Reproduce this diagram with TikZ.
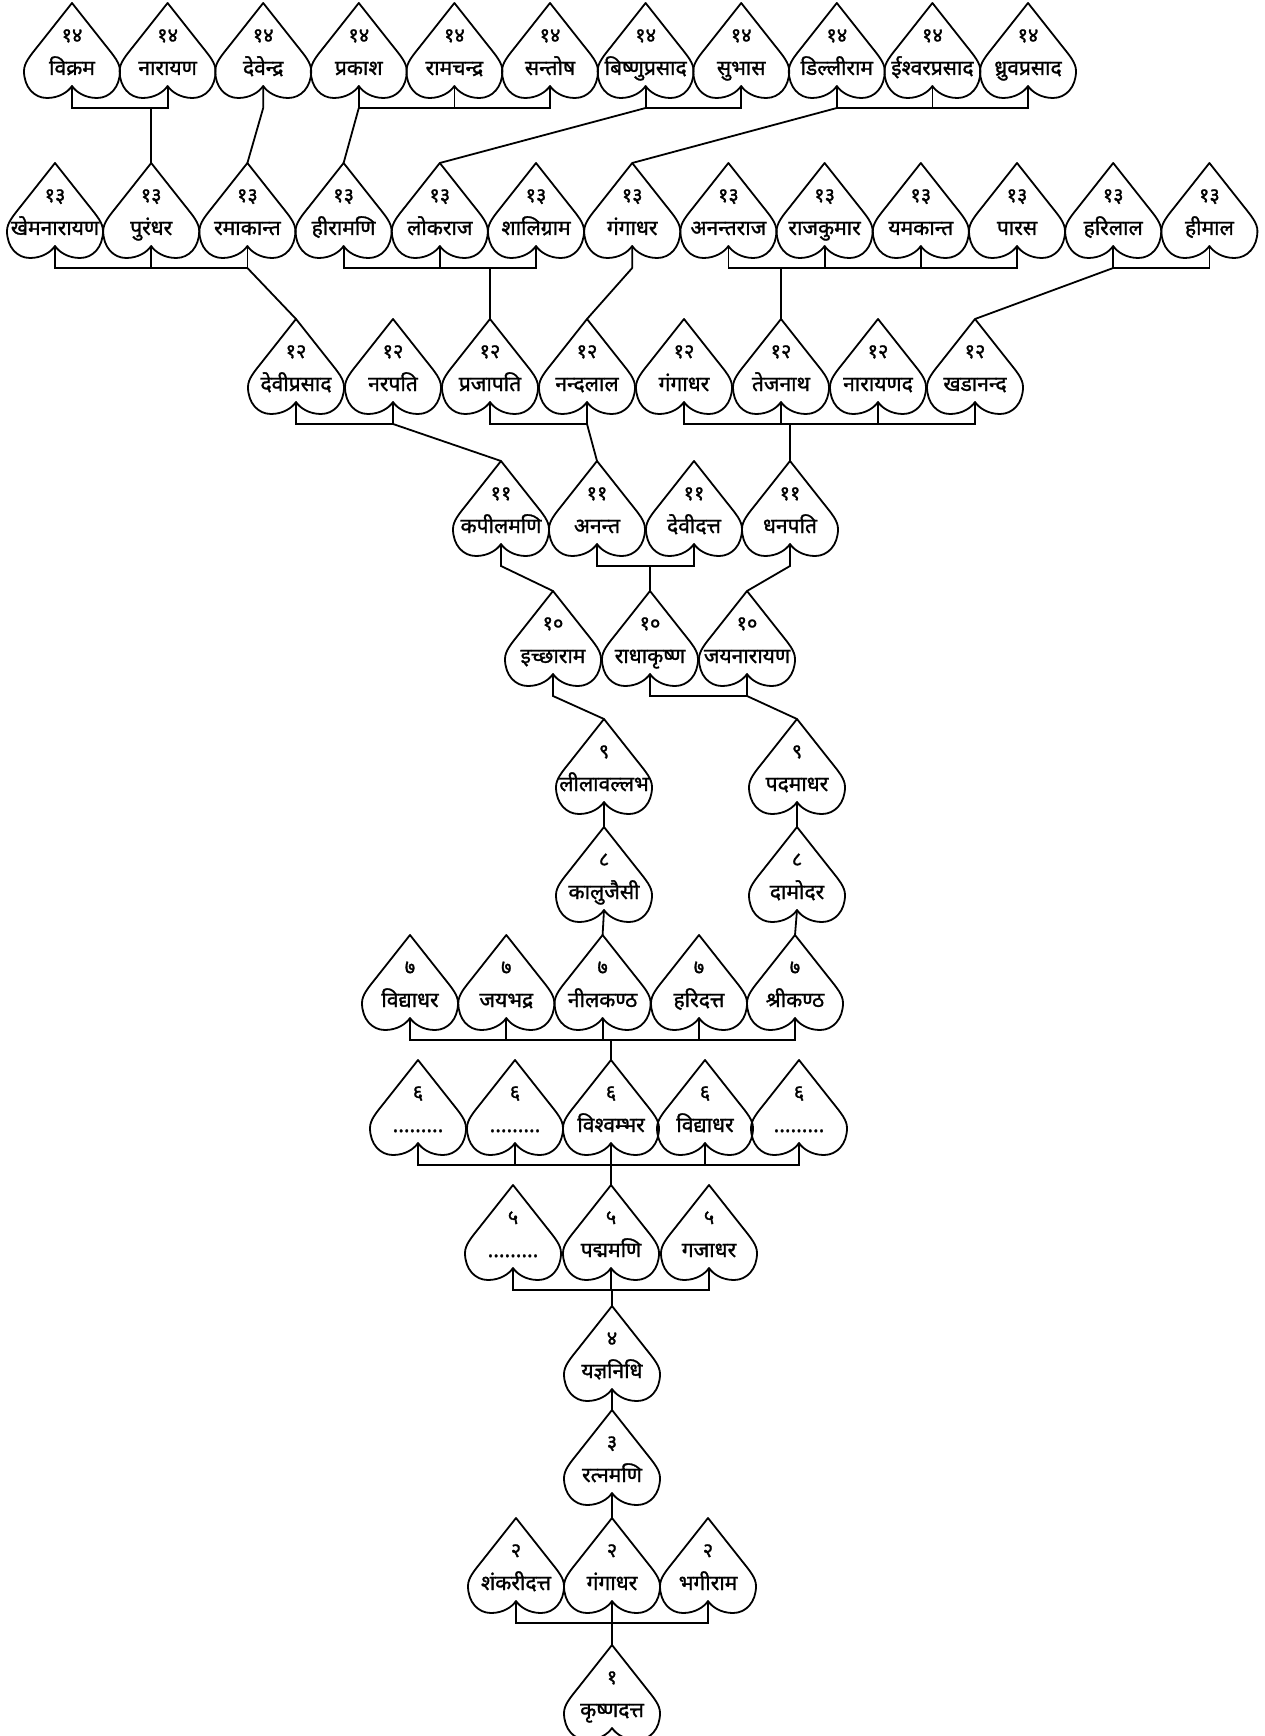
\documentclass[tikz,border=0pt]{standalone}
\usepackage{fontspec}
\newfontfamily\devfont[Script=Devanagari,FakeBold=1.3]{Noto Sans}
\newcommand\mkleaf[5]{%
  \coordinate (#1) at (#2,#3);
  \pic at (#1) {leafshape};
  \path (#1) ++(0,39) node[numtext] (#1-n) {#4};
  \path (#1) ++(0,72) node[nametext] (#1-t) {#5};
  \path (#1) ++(0,83) coordinate (#1-b);
  \path (#1) ++(0,105) coordinate (#1-s);
}
\begin{document}
\begin{tikzpicture}[x=1pt,y=-1pt,
  leafline/.style={line width=1.8pt, line join=round},
  conn/.style={line width=1.8pt},
  numtext/.style={font=\devfont\fontsize{20}{24}\selectfont, inner sep=0pt, anchor=base},
  nametext/.style={font=\devfont\fontsize{21}{25}\selectfont, inner sep=0pt, anchor=base},
  leafshape/.pic={\draw[leafline] (0,0) -- (34,43) .. controls (42,53) and (48,60) .. (48,68)
     .. controls (48,84) and (38,95) .. (25,95) .. controls (13,95) and (4,89) .. (0,83)
     .. controls (-4,89) and (-13,95) .. (-25,95) .. controls (-38,95) and (-48,84) .. (-48,68)
     .. controls (-48,60) and (-42,53) .. (-34,43) -- cycle;}
]
\useasboundingbox[fill=white] (0,0) rectangle (1265,1736);
% row 14
\mkleaf{a1}{72}{3}{१४}{विक्रम}
\mkleaf{a2}{167.6}{3}{१४}{नारायण}
\mkleaf{a3}{263.2}{3}{१४}{देवेन्द्र}
\mkleaf{a4}{358.8}{3}{१४}{प्रकाश}
\mkleaf{a5}{454.4}{3}{१४}{रामचन्द्र}
\mkleaf{a6}{550}{3}{१४}{सन्तोष}
\mkleaf{a7}{645.6}{3}{१४}{बिष्णुप्रसाद}
\mkleaf{a8}{741.2}{3}{१४}{सुभास}
\mkleaf{a9}{836.8}{3}{१४}{डिल्लीराम}
\mkleaf{a10}{932.4}{3}{१४}{ईश्वरप्रसाद}
\mkleaf{a11}{1028}{3}{१४}{ध्रुवप्रसाद}
% row 13
\mkleaf{b1}{55}{163}{१३}{खेमनारायण}
\mkleaf{b2}{151.2}{163}{१३}{पुरंधर}
\mkleaf{b3}{247.4}{163}{१३}{रमाकान्त}
\mkleaf{b4}{343.6}{163}{१३}{हीरामणि}
\mkleaf{b5}{439.8}{163}{१३}{लोकराज}
\mkleaf{b6}{536}{163}{१३}{शालिग्राम}
\mkleaf{b7}{632.2}{163}{१३}{गंगाधर}
\mkleaf{b8}{728.4}{163}{१३}{अनन्तराज}
\mkleaf{b9}{824.6}{163}{१३}{राजकुमार}
\mkleaf{b10}{920.8}{163}{१३}{यमकान्त}
\mkleaf{b11}{1017}{163}{१३}{पारस}
\mkleaf{b12}{1113.2}{163}{१३}{हरिलाल}
\mkleaf{b13}{1209.4}{163}{१३}{हीमाल}
% row 12
\mkleaf{c1}{296}{319}{१२}{देवीप्रसाद}
\mkleaf{c2}{393}{319}{१२}{नरपति}
\mkleaf{c3}{490}{319}{१२}{प्रजापति}
\mkleaf{c4}{587}{319}{१२}{नन्दलाल}
\mkleaf{c5}{684}{319}{१२}{गंगाधर}
\mkleaf{c6}{781}{319}{१२}{तेजनाथ}
\mkleaf{c7}{878}{319}{१२}{नारायणद}
\mkleaf{c8}{975}{319}{१२}{खडानन्द}
% row 11
\mkleaf{d1}{501}{461}{११}{कपीलमणि}
\mkleaf{d2}{597}{461}{११}{अनन्त}
\mkleaf{d3}{694}{461}{११}{देवीदत्त}
\mkleaf{d4}{790}{461}{११}{धनपति}
% row 10
\mkleaf{e1}{553}{591}{१०}{इच्छाराम}
\mkleaf{e2}{650}{591}{१०}{राधाकृष्ण}
\mkleaf{e3}{747}{591}{१०}{जयनारायण}
% row 9
\mkleaf{f1}{604}{719}{९}{लीलावल्लभ}
\mkleaf{f2}{797}{719}{९}{पदमाधर}
% row 8
\mkleaf{g1}{604}{827}{८}{कालुजैसी}
\mkleaf{g2}{797}{827}{८}{दामोदर}
% row 7
\mkleaf{h1}{410}{935}{७}{विद्याधर}
\mkleaf{h2}{506.3}{935}{७}{जयभद्र}
\mkleaf{h3}{602.6}{935}{७}{नीलकण्ठ}
\mkleaf{h4}{699}{935}{७}{हरिदत्त}
\mkleaf{h5}{795}{935}{७}{श्रीकण्ठ}
% row 6
\mkleaf{i1}{418}{1060}{६}{.........}
\mkleaf{i2}{515}{1060}{६}{.........}
\mkleaf{i3}{611}{1060}{६}{विश्वम्भर}
\mkleaf{i4}{705}{1060}{६}{विद्याधर}
\mkleaf{i5}{799}{1060}{६}{.........}
% row 5
\mkleaf{j1}{513}{1185}{५}{.........}
\mkleaf{j2}{611}{1185}{५}{पद्ममणि}
\mkleaf{j3}{709}{1185}{५}{गजाधर}
% rows 4..1
\mkleaf{k1}{612}{1306}{४}{यज्ञनिधि}
\mkleaf{l1}{612}{1410}{३}{रत्नमणि}
\mkleaf{m1}{516}{1518}{२}{शंकरीदत्त}
\mkleaf{m2}{612}{1518}{२}{गंगाधर}
\mkleaf{m3}{708}{1518}{२}{भगीराम}
\mkleaf{n1}{612}{1645}{१}{कृष्णदत्त}
% connectors row 14 -> 13
\draw[conn] (a1-b) -- (a1-s) -- (a2-s) -- (a2-b);
\draw[conn] (b2 |- a1-s) -- (b2);
\draw[conn] (a3-b) -- (a3-s) -- (b3);
\draw[conn] (a4-b) -- (a4-s) -- (a6-s) -- (a6-b);
\draw[conn] (a5-b) -- (a5-s);
\draw[conn] (a4-s) -- (b4);
\draw[conn] (a7-b) -- (a7-s) -- (a8-s) -- (a8-b);
\draw[conn] (a7-s) -- (b5);
\draw[conn] (a9-b) -- (a9-s) -- (a11-s) -- (a11-b);
\draw[conn] (a10-b) -- (a10-s);
\draw[conn] (a9-s) -- (b7);
% row 13 -> 12
\draw[conn] (b1-b) -- (b1-s) -- (b3-s) -- (b3-b);
\draw[conn] (b2-b) -- (b2-s);
\draw[conn] (b3-s) -- (c1);
\draw[conn] (b4-b) -- (b4-s) -- (b6-s) -- (b6-b);
\draw[conn] (b5-b) -- (b5-s);
\draw[conn] (c3 |- b4-s) -- (c3);
\draw[conn] (b7-b) -- (b7-s) -- (c4);
\draw[conn] (b8-b) -- (b8-s) -- (b11-s) -- (b11-b);
\draw[conn] (b9-b) -- (b9-s);
\draw[conn] (b10-b) -- (b10-s);
\draw[conn] (c6 |- b8-s) -- (c6);
\draw[conn] (b12-b) -- (b12-s) -- (b13-s) -- (b13-b);
\draw[conn] (b12-s) -- (c8);
% row 12 -> 11
\draw[conn] (c1-b) -- (c1-s) -- (c2-s) -- (c2-b);
\draw[conn] (c2-s) -- (d1);
\draw[conn] (c3-b) -- (c3-s) -- (c4-s) -- (c4-b);
\draw[conn] (c4-s) -- (d2);
\draw[conn] (c5-b) -- (c5-s) -- (c8-s) -- (c8-b);
\draw[conn] (c6-b) -- (c6-s);
\draw[conn] (c7-b) -- (c7-s);
\draw[conn] (d4 |- c5-s) -- (d4);
% row 11 -> 10
\draw[conn] (d1-b) -- (d1-s) -- (e1);
\draw[conn] (d2-b) -- (d2-s) -- (d3-s) -- (d3-b);
\draw[conn] (e2 |- d2-s) -- (e2);
\draw[conn] (d4-b) -- (d4-s) -- (e3);
% row 10 -> 9
\draw[conn] (e1-b) -- (e1-s) -- (f1);
\draw[conn] (e2-b) -- (e2-s) -- (e3-s) -- (e3-b);
\draw[conn] (e3-s) -- (f2);
% rows 9 -> 8 -> 7
\draw[conn] (f1-b) -- (g1);
\draw[conn] (f2-b) -- (g2);
\draw[conn] (g1-b) -- (h3);
\draw[conn] (g2-b) -- (h5);
% row 7 -> 6
\draw[conn] (h1-b) -- (h1-s) -- (h5-s) -- (h5-b);
\draw[conn] (h2-b) -- (h2-s);
\draw[conn] (h3-b) -- (h3-s);
\draw[conn] (h4-b) -- (h4-s);
\draw[conn] (i3 |- h1-s) -- (i3);
% row 6 -> 5
\draw[conn] (i1-b) -- (i1-s) -- (i5-s) -- (i5-b);
\draw[conn] (i2-b) -- (i2-s);
\draw[conn] (i3-b) -- (i3-s);
\draw[conn] (i4-b) -- (i4-s);
\draw[conn] (j2 |- i1-s) -- (j2);
% row 5 -> 4
\draw[conn] (j1-b) -- (j1-s) -- (j3-s) -- (j3-b);
\draw[conn] (j2-b) -- (j2-s);
\draw[conn] (k1 |- j1-s) -- (k1);
% rows 4 -> 3 -> 2
\draw[conn] (k1-b) -- (l1);
\draw[conn] (l1-b) -- (m2);
% row 2 -> 1
\draw[conn] (m1-b) -- (m1-s) -- (m3-s) -- (m3-b);
\draw[conn] (m2-b) -- (m2-s);
\draw[conn] (n1 |- m1-s) -- (n1);
\end{tikzpicture}
\end{document}
